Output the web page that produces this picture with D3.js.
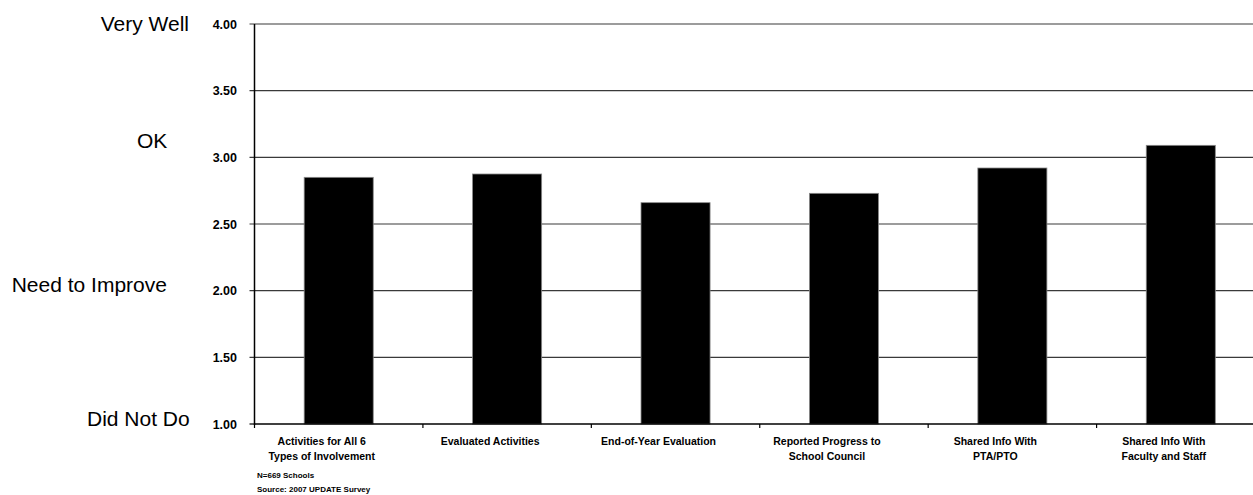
<!DOCTYPE html>
<html>
<head>
<meta charset="utf-8">
<script src="https://cdn.jsdelivr.net/npm/d3@7"></script>
<style>
  html, body { margin: 0; padding: 0; background: #fff; }
  svg { display: block; font-family: Arial, "Liberation Sans", sans-serif; }
</style>
</head>
<body>
<svg id="chart" width="1253" height="495"></svg>
<script>
const categories = [
  "Activities for All 6\nTypes of Involvement",
  "Evaluated Activities",
  "End-of-Year Evaluation",
  "Reported Progress to\nSchool Council",
  "Shared Info With\nPTA/PTO",
  "Shared Info With\nFaculty and Staff"
];
const values = [2.85, 2.875, 2.66, 2.73, 2.92, 3.09];
const yTicks = [1.0, 1.5, 2.0, 2.5, 3.0, 3.5, 4.0];
const ratingLabels = ["Very Well", "OK", "Need to Improve", "Did Not Do"];
const footnotes = ["N=669 Schools", "Source: 2007 UPDATE Survey"];

(function () {
const svg = d3.select("#chart");
const plotLeft = 254.5, plotRight = 1265, plotTop = 24, plotBottom = 424;

const y = d3.scaleLinear().domain([1, 4]).range([plotBottom, plotTop]);
const xBand = d3.scaleBand().domain(categories).range([plotLeft, plotRight]).padding(0);
const xBar = d3.scaleBand().domain(categories).range([plotLeft, plotRight])
  .paddingInner(0.59).paddingOuter(0.295);

// gridlines + y ticks
svg.append("g").selectAll("line").data(yTicks.filter(d => d > 1)).join("line")
  .attr("x1", plotLeft - 5).attr("x2", 1253)
  .attr("y1", d => y(d)).attr("y2", d => y(d))
  .attr("stroke", "#3a3a3a").attr("stroke-width", 1.2);

svg.append("line").attr("x1", plotLeft - 5).attr("x2", plotLeft)
  .attr("y1", y(1)).attr("y2", y(1)).attr("stroke", "#000").attr("stroke-width", 1.2);

svg.append("g").selectAll("text").data(yTicks).join("text")
  .attr("x", 237).attr("y", d => y(d) + 4.6)
  .attr("text-anchor", "end").attr("font-size", 12.5).attr("font-weight", "bold")
  .attr("fill", "#000").text(d => d.toFixed(2));

// bars
svg.append("g").selectAll("rect").data(values).join("rect")
  .attr("x", (d, i) => xBar(categories[i]))
  .attr("width", xBar.bandwidth())
  .attr("y", d => y(d))
  .attr("height", d => y(1) - y(d))
  .attr("fill", "#000").attr("stroke", "#888").attr("stroke-width", 0.8);

// y axis line
svg.append("line").attr("x1", plotLeft).attr("x2", plotLeft)
  .attr("y1", plotTop).attr("y2", plotBottom + 1)
  .attr("stroke", "#000").attr("stroke-width", 1.5);

// x axis line
svg.append("line").attr("x1", plotLeft).attr("x2", 1253)
  .attr("y1", plotBottom).attr("y2", plotBottom)
  .attr("stroke", "#000").attr("stroke-width", 1.4);

// x boundary ticks
const boundaries = categories.map(c => xBand(c)).concat([plotRight]);
svg.append("g").selectAll("line").data(boundaries).join("line")
  .attr("x1", d => d).attr("x2", d => d)
  .attr("y1", plotBottom).attr("y2", plotBottom + 4)
  .attr("stroke", "#000").attr("stroke-width", 1.2);

// category labels
const catG = svg.append("g");
categories.forEach(c => {
  const cx = xBand(c) + xBand.bandwidth() / 2 - 17;
  const t = catG.append("text").attr("text-anchor", "middle")
    .attr("font-size", 10.5).attr("font-weight", "bold").attr("fill", "#000");
  c.split("\n").forEach((line, j) => {
    t.append("tspan").attr("x", cx).attr("y", 445 + j * 14.5).text(line);
  });
});

// rating labels on the left
const ratingPos = [[100.7, 30.5], [137, 147.7], [11.7, 292.3], [87, 425.7]];
svg.append("g").selectAll("text").data(ratingLabels).join("text")
  .attr("x", (d, i) => ratingPos[i][0]).attr("y", (d, i) => ratingPos[i][1])
  .attr("font-size", 21).attr("fill", "#000").text(d => d);

// footnotes
svg.append("g").selectAll("text").data(footnotes).join("text")
  .attr("x", 257).attr("y", (d, i) => 478 + i * 13.5)
  .attr("font-size", 8).attr("font-weight", "bold").attr("fill", "#000").text(d => d);
})();
</script>
</body>
</html>
